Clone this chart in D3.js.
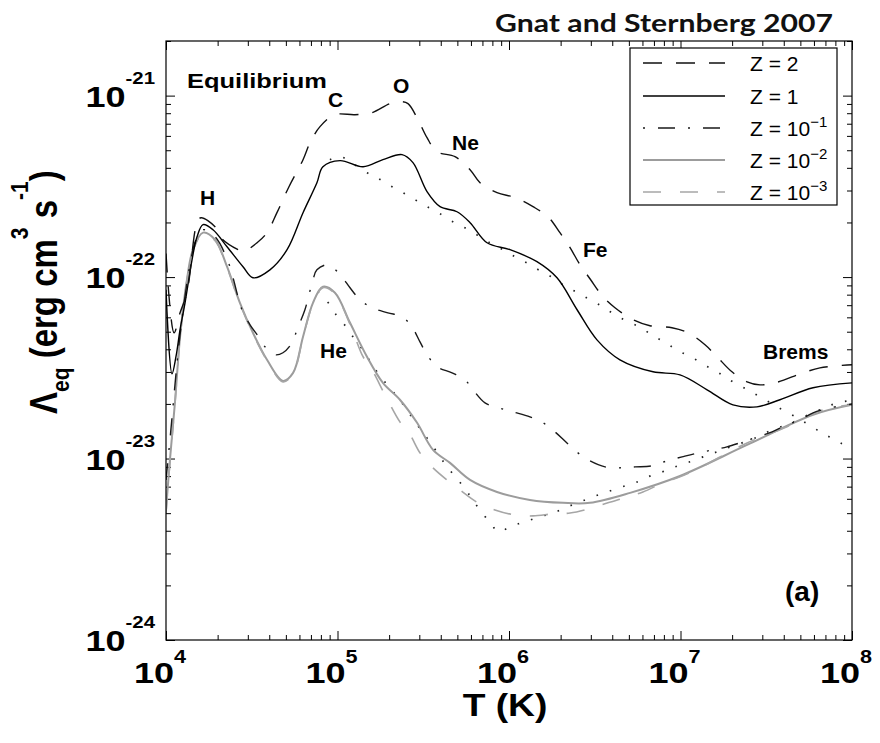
<!DOCTYPE html>
<html>
<head>
<meta charset="utf-8">
<script src="https://cdn.jsdelivr.net/npm/d3@7/dist/d3.min.js"></script>
<style>
  body { margin: 0; background: #fff; }
  svg { display: block; font-family: "Liberation Sans", Arial, Helvetica, sans-serif; }
</style>
</head>
<body>
<svg id="chart" width="880" height="743"></svg>
<script>
// Equilibrium cooling efficiencies, stored as log10(T / K) and log10(Lambda / erg cm^3 s^-1)

const zTwoLogT = [4.00,4.047,4.082,4.122,4.181,4.204,4.286,4.332,4.42,4.449,4.531,4.589,4.647,4.717,4.799,4.84,4.898,4.985,5.102,5.201,5.306,5.364,5.411,5.469,5.522,5.58,5.685,5.773,5.831,5.93,6.035,6.14,6.227,6.297,6.356,6.414,6.472,6.548,6.618,6.723,6.822,6.95,7.044,7.143,7.213,7.30,7.388,7.464,7.551,7.714,7.813,8.00];
const zTwoLogL = [-21.87,-22.307,-22.197,-22.086,-21.70,-21.673,-21.722,-21.794,-21.849,-21.86,-21.811,-21.755,-21.645,-21.502,-21.353,-21.259,-21.171,-21.105,-21.105,-21.094,-21.044,-21.033,-21.044,-21.132,-21.232,-21.309,-21.336,-21.408,-21.48,-21.535,-21.562,-21.612,-21.667,-21.755,-21.838,-21.932,-22.009,-22.108,-22.169,-22.235,-22.268,-22.279,-22.307,-22.373,-22.439,-22.522,-22.577,-22.594,-22.583,-22.528,-22.50,-22.483];

const zOneLogT = [4.00,4.035,4.058,4.082,4.111,4.152,4.181,4.216,4.274,4.356,4.449,4.507,4.606,4.706,4.799,4.88,4.915,5.015,5.149,5.265,5.376,5.44,5.522,5.598,5.697,5.773,5.872,6.006,6.163,6.28,6.397,6.513,6.647,6.84,6.997,7.155,7.306,7.446,7.58,7.773,8.00];
const zOneLogL = [-22.07,-22.533,-22.439,-22.29,-22.142,-21.904,-21.778,-21.711,-21.739,-21.833,-21.943,-22.004,-21.96,-21.849,-21.645,-21.48,-21.392,-21.358,-21.392,-21.353,-21.325,-21.369,-21.529,-21.612,-21.64,-21.70,-21.811,-21.849,-21.915,-22.004,-22.18,-22.346,-22.456,-22.522,-22.539,-22.621,-22.704,-22.715,-22.676,-22.61,-22.583];

const zTenthLogT = [4.00,4.023,4.082,4.14,4.175,4.216,4.286,4.362,4.443,4.49,4.536,4.577,4.636,4.682,4.735,4.764,4.81,4.857,4.88,4.945,5.015,5.073,5.131,5.201,5.294,5.376,5.434,5.481,5.522,5.58,5.668,5.743,5.79,5.86,5.942,6.023,6.122,6.198,6.268,6.338,6.402,6.472,6.56,6.659,6.735,6.834,6.921,7.009,7.102,7.19,7.271,7.364,7.452,7.534,7.621,7.697,7.773,7.872,8.00];
const zTenthLogL = [-23.118,-22.897,-22.318,-21.932,-21.794,-21.739,-21.778,-21.915,-22.18,-22.263,-22.324,-22.384,-22.428,-22.417,-22.362,-22.29,-22.18,-22.015,-21.96,-21.932,-21.987,-22.059,-22.125,-22.169,-22.197,-22.219,-22.274,-22.357,-22.428,-22.494,-22.528,-22.566,-22.621,-22.693,-22.721,-22.743,-22.77,-22.803,-22.853,-22.914,-22.969,-23.013,-23.046,-23.051,-23.046,-23.04,-23.013,-22.991,-22.969,-22.952,-22.936,-22.908,-22.88,-22.853,-22.814,-22.787,-22.748,-22.721,-22.699];

const zHundredthLogT = [4.00,4.023,4.052,4.082,4.122,4.157,4.216,4.286,4.356,4.431,4.507,4.589,4.682,4.741,4.799,4.857,4.915,4.985,5.073,5.172,5.265,5.364,5.464,5.557,5.656,5.773,5.93,6.122,6.315,6.472,6.706,6.997,7.388,7.773,8.00];
const zHundredthLogL = [-23.283,-23.007,-22.693,-22.329,-22.015,-21.849,-21.755,-21.794,-21.943,-22.142,-22.307,-22.456,-22.572,-22.528,-22.329,-22.142,-22.053,-22.086,-22.252,-22.439,-22.583,-22.676,-22.803,-22.952,-23.024,-23.118,-23.184,-23.228,-23.244,-23.244,-23.189,-23.096,-22.925,-22.759,-22.704];

const zThousandthLogT = [4.00,4.023,4.052,4.082,4.122,4.157,4.216,4.286,4.356,4.431,4.507,4.589,4.682,4.741,4.799,4.857,4.915,4.985,5.073,5.149,5.201,5.277,5.364,5.423,5.481,5.551,5.638,5.714,5.819,5.918,6.035,6.14,6.257,6.356,6.484,6.577,6.694,6.781,6.91,6.997,7.114,7.306,7.388,7.534,7.621,7.784,7.872,8.00];
const zThousandthLogL = [-23.30,-23.02,-22.70,-22.335,-22.02,-21.855,-21.762,-21.80,-21.948,-22.147,-22.312,-22.46,-22.578,-22.532,-22.333,-22.146,-22.058,-22.092,-22.26,-22.439,-22.511,-22.649,-22.798,-22.869,-22.969,-23.046,-23.118,-23.173,-23.244,-23.283,-23.311,-23.316,-23.305,-23.30,-23.272,-23.244,-23.211,-23.184,-23.129,-23.101,-23.051,-22.952,-22.914,-22.858,-22.825,-22.748,-22.721,-22.704];

// Dotted comparison curves (high and low metallicity)
const refHighLogT = [4.956,5.015,5.16,5.23,5.306,5.382,5.452,5.522,5.598,5.673,5.743,5.889,5.965,6.035,6.111,6.181,6.257,6.332,6.402,6.472,6.548,6.618,6.694,6.77,6.84,6.915,6.985,7.061,7.137,7.213,7.277,7.359,7.423,7.504,7.574,7.65,7.72,7.796,7.866,7.942,8.00];
const refHighLogL = [-21.353,-21.336,-21.419,-21.452,-21.496,-21.535,-21.574,-21.612,-21.651,-21.695,-21.728,-21.811,-21.849,-21.888,-21.926,-21.965,-22.004,-22.053,-22.086,-22.125,-22.164,-22.208,-22.246,-22.279,-22.324,-22.362,-22.406,-22.439,-22.483,-22.522,-22.561,-22.605,-22.638,-22.682,-22.721,-22.759,-22.798,-22.842,-22.88,-22.919,-22.947];

const refLowLogT = [4.886,4.956,5.003,5.055,5.102,5.16,5.201,5.248,5.30,5.353,5.405,5.452,5.499,5.551,5.598,5.644,5.697,5.749,5.796,5.848,5.901,5.936,6.017,6.093,6.175,6.257,6.338,6.414,6.49,6.571,6.659,6.735,6.81,6.892,6.968,7.055,7.131,7.213,7.289,7.376,7.452,7.534,7.621,7.685,7.767,7.843,7.913,8.00];
const refLowLogL = [-22.081,-22.153,-22.224,-22.279,-22.346,-22.417,-22.483,-22.544,-22.605,-22.665,-22.732,-22.798,-22.858,-22.925,-22.991,-23.051,-23.112,-23.173,-23.239,-23.305,-23.366,-23.404,-23.371,-23.349,-23.322,-23.30,-23.267,-23.239,-23.211,-23.184,-23.156,-23.134,-23.101,-23.074,-23.046,-23.018,-22.991,-22.963,-22.936,-22.908,-22.88,-22.842,-22.814,-22.787,-22.748,-22.721,-22.693,-22.68];

const legendLabels = [["Z = 2", ""], ["Z = 1", ""], ["Z = 10", "\u22121"], ["Z = 10", "\u22122"], ["Z = 10", "\u22123"]];
const xTickExponents = [4, 5, 6, 7, 8];
const yTickExponents = [-24, -23, -22, -21];

// ---------------------------------------------------------------------------
const svg = d3.select("#chart");
const W = 880, H = 743;
const m = { left: 166, right: 852, top: 41, bottom: 640 };

const x = d3.scaleLog().domain([1e4, 1e8]).range([m.left, m.right]);
const y = d3.scaleLog().domain([1e-24, 2e-21]).range([m.bottom, m.top]);

svg.append("rect").attr("width", W).attr("height", H).attr("fill", "#fff");

// clip for curves
svg.append("defs").append("clipPath").attr("id", "plotClip")
  .append("rect").attr("x", m.left).attr("y", m.top)
  .attr("width", m.right - m.left).attr("height", m.bottom - m.top);

// ticks (inward on all four sides)
const majorX = xTickExponents.map(e => Math.pow(10, e));
const minorX = [];
for (let e = 4; e < 8; e++) for (let k = 2; k <= 9; k++) minorX.push(k * Math.pow(10, e));
const majorY = yTickExponents.map(e => Math.pow(10, e));
const minorY = [];
for (let e = -24; e < -21; e++) for (let k = 2; k <= 9; k++) minorY.push(k * Math.pow(10, e));
minorY.push(2e-21);

function tickAxis(axis, values, size, transform) {
  const g = svg.append("g").attr("transform", transform)
    .call(axis.tickValues(values).tickSize(-size).tickFormat(""));
  g.select(".domain").remove();
  g.selectAll(".tick line").attr("stroke", "#000").attr("stroke-width", 1);
}
tickAxis(d3.axisBottom(x), majorX, 9, `translate(0,${m.bottom})`);
tickAxis(d3.axisBottom(x), minorX, 5, `translate(0,${m.bottom})`);
tickAxis(d3.axisTop(x), majorX, 9, `translate(0,${m.top})`);
tickAxis(d3.axisTop(x), minorX, 5, `translate(0,${m.top})`);
tickAxis(d3.axisLeft(y), majorY, 9, `translate(${m.left},0)`);
tickAxis(d3.axisLeft(y), minorY, 5, `translate(${m.left},0)`);
tickAxis(d3.axisRight(y), majorY, 9, `translate(${m.right},0)`);
tickAxis(d3.axisRight(y), minorY, 5, `translate(${m.right},0)`);

// curves
const line = d3.line()
  .x(d => x(d[0])).y(d => y(d[1]))
  .curve(d3.curveCatmullRom.alpha(0.5));
const toPts = (lt, ll) => lt.map((t, i) => [Math.pow(10, t), Math.pow(10, ll[i])]);

const series = [
  { t: refLowLogT,      l: refLowLogL,      stroke: "#222",    w: 1.7, dash: "1.6,12.4" },
  { t: refHighLogT,     l: refHighLogL,     stroke: "#222",    w: 1.7, dash: "1.6,12.4" },
  { t: zHundredthLogT,  l: zHundredthLogL,  stroke: "#9c9c9c", w: 2.0, dash: null },
  { t: zThousandthLogT, l: zThousandthLogL, stroke: "#a6a6a6", w: 1.6, dash: "18,19" },
  { t: zTenthLogT,      l: zTenthLogL,      stroke: "#1a1a1a", w: 1.4, dash: "17,13,2,13" },
  { t: zOneLogT,        l: zOneLogL,        stroke: "#000",    w: 1.4, dash: null },
  { t: zTwoLogT,        l: zTwoLogL,        stroke: "#111",    w: 1.4, dash: "19,14" }
];
const curves = svg.append("g").attr("clip-path", "url(#plotClip)");
series.forEach(s => {
  curves.append("path")
    .attr("d", line(toPts(s.t, s.l)))
    .attr("fill", "none")
    .attr("stroke", s.stroke)
    .attr("stroke-width", s.w)
    .attr("stroke-dasharray", s.dash)
    .attr("stroke-linejoin", "round");
});

// frame
svg.append("rect")
  .attr("x", m.left).attr("y", m.top)
  .attr("width", m.right - m.left).attr("height", m.bottom - m.top)
  .attr("fill", "none").attr("stroke", "#000").attr("stroke-width", 1.2);

// tick labels: 10 with raised exponent, slightly widened glyphs
xTickExponents.forEach((e, i) => {
  const t = svg.append("text")
    .attr("transform", `translate(${x(majorX[i]) - 6},683) scale(1.2,1)`)
    .attr("text-anchor", "middle")
    .attr("font-weight", "bold").attr("font-size", 30).attr("fill", "#000");
  t.append("tspan").text("10");
  t.append("tspan").attr("font-size", 18).attr("dy", -20).text(e);
});
yTickExponents.forEach((e, i) => {
  const t = svg.append("text")
    .attr("transform", `translate(155,${y(majorY[i]) + 11}) scale(1.2,1)`)
    .attr("text-anchor", "end")
    .attr("font-weight", "bold").attr("font-size", 30).attr("fill", "#000");
  t.append("tspan").text("10");
  t.append("tspan").attr("font-size", 17).attr("dy", -23).text("-" + Math.abs(e));
});

// axis titles
svg.append("text")
  .attr("transform", `translate(505,716) scale(1.2,1)`)
  .attr("text-anchor", "middle")
  .attr("font-weight", "bold").attr("font-size", 31).attr("fill", "#000")
  .text("T (K)");

const yt = svg.append("text")
  .attr("transform", "translate(57,414) scale(1.15,1) rotate(-90)")
  .attr("font-weight", "bold").attr("font-size", 33).attr("fill", "#000");
yt.append("tspan").text("\u039B");
yt.append("tspan").attr("font-size", 21).attr("dy", 10).text("eq");
yt.append("tspan").attr("dy", -10).text(" (erg cm");
yt.append("tspan").attr("font-size", 21).attr("dy", -25).text("3");
yt.append("tspan").attr("dy", 25).text(" s");
yt.append("tspan").attr("font-size", 21).attr("dy", -25).text("-1");
yt.append("tspan").attr("dy", 25).text(")");

// annotations
const ann = svg.append("g").attr("font-weight", "bold").attr("font-size", 21).attr("fill", "#000");
ann.append("text").attr("x", 187).attr("y", 88).attr("textLength", 140)
  .attr("lengthAdjust", "spacingAndGlyphs").text("Equilibrium");
ann.append("text").attr("x", 328).attr("y", 107).text("C");
ann.append("text").attr("x", 393).attr("y", 93).text("O");
ann.append("text").attr("x", 200).attr("y", 205).text("H");
ann.append("text").attr("x", 452).attr("y", 150).text("Ne");
ann.append("text").attr("x", 320).attr("y", 358).text("He");
ann.append("text").attr("x", 583).attr("y", 257).text("Fe");
ann.append("text").attr("x", 763).attr("y", 359).text("Brems");
ann.append("text").attr("x", 785).attr("y", 601).attr("font-size", 28).text("(a)");

// legend
const lg = svg.append("g");
lg.append("rect").attr("x", 630).attr("y", 48).attr("width", 207).attr("height", 157)
  .attr("fill", "#fff").attr("stroke", "#000").attr("stroke-width", 1.2);
const legendStyle = [series[6], series[5], series[4], series[2], series[3]];
const legendRows = [63, 96, 128, 160, 192];
legendLabels.forEach((lab, i) => {
  const s = legendStyle[i];
  lg.append("line").attr("x1", 643).attr("x2", 725)
    .attr("y1", legendRows[i]).attr("y2", legendRows[i])
    .attr("stroke", s.stroke).attr("stroke-width", s.w)
    .attr("stroke-dasharray", s.dash)
    .attr("stroke-dashoffset", i === 2 ? 30 : 0);
  const t = lg.append("text").attr("x", 750).attr("y", legendRows[i] + 8)
    .attr("font-size", 21).attr("fill", "#000");
  t.append("tspan").text(lab[0]);
  if (lab[1]) t.append("tspan").attr("font-size", 15).attr("dy", -9).text(lab[1]);
});

// heading
svg.append("text")
  .attr("x", 833).attr("y", 32).attr("text-anchor", "end")
  .attr("font-family", "Lato, 'Open Sans', sans-serif")
  .attr("font-weight", "bold").attr("font-size", 25).attr("fill", "#111")
  .attr("textLength", 338).attr("lengthAdjust", "spacingAndGlyphs")
  .text("Gnat and Sternberg 2007");
</script>
</body>
</html>
